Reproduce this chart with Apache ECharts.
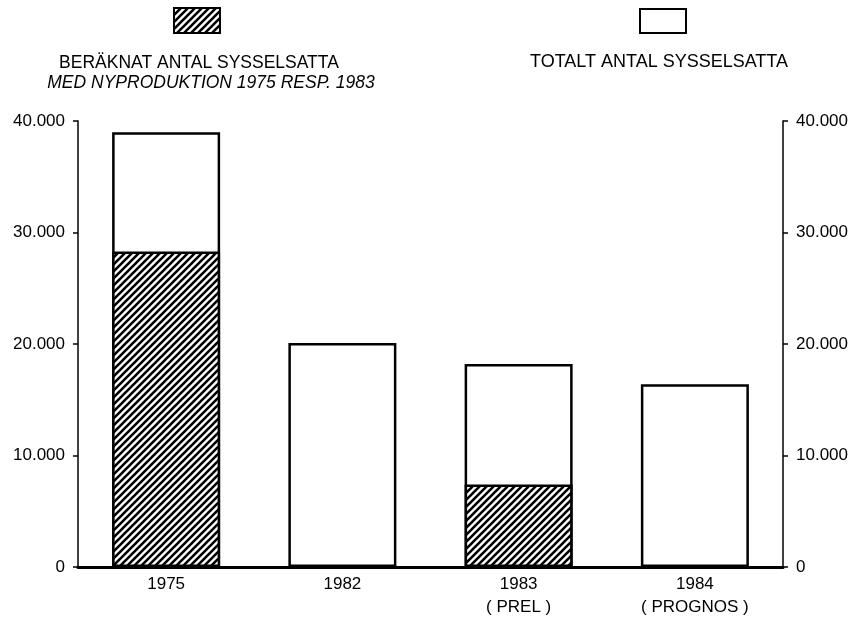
<!DOCTYPE html>
<html>
<head>
<meta charset="utf-8">
<script src="https://cdn.jsdelivr.net/npm/echarts@6/dist/echarts.min.js"></script>
<style>
  html, body { margin: 0; padding: 0; background: #fff; }
  #chart { width: 861px; height: 620px; }
</style>
</head>
<body>
<div id="chart"></div>
<script>
// data
const years = ['1975', '1982', '1983\n( PREL )', '1984\n( PROGNOS )'];
const totalEmployed = [39000, 20100, 18200, 16400];
const newProduction = [28300, 0, 7400, 0];
const tickLabels = ['0', '10.000', '20.000', '30.000', '40.000'];

const FONT = '"Liberation Sans", Arial, sans-serif';

// diagonal hatch pattern
function hatch() {
  const c = document.createElement('canvas');
  c.width = 7; c.height = 7;
  const g = c.getContext('2d');
  g.fillStyle = '#fff';
  g.fillRect(0, 0, 7, 7);
  g.strokeStyle = '#000';
  g.lineWidth = 2.6;
  g.beginPath();
  for (let k = -7; k <= 14; k += 7) {
    g.moveTo(k - 1, 8);
    g.lineTo(k + 8, -1);
  }
  g.stroke();
  return c;
}
const hatchFill = { image: hatch(), repeat: 'repeat' };

const chart = echarts.init(document.getElementById('chart'));

const yAxisBase = {
  type: 'value',
  min: 0,
  max: 40000,
  interval: 10000,
  axisLine: { show: true, lineStyle: { color: '#000', width: 1.5 } },
  axisTick: { show: true, length: 5, lineStyle: { color: '#000', width: 1.5 } },
  splitLine: { show: false },
  axisLabel: {
    color: '#000',
    fontFamily: FONT,
    fontSize: 17,
    margin: 13,
    formatter: (v) => tickLabels[Math.round(v / 10000)]
  }
};

chart.setOption({
  backgroundColor: '#fff',
  animation: false,
  grid: { left: 78, right: 78, top: 121, bottom: 53 },
  xAxis: {
    type: 'category',
    data: years,
    axisLine: { show: true, lineStyle: { color: '#000', width: 3 } },
    axisTick: { show: false },
    axisLabel: {
      color: '#000',
      fontFamily: FONT,
      fontSize: 17,
      lineHeight: 23,
      margin: 6
    }
  },
  yAxis: [
    Object.assign({}, yAxisBase, { position: 'left' }),
    Object.assign({}, yAxisBase, { position: 'right' })
  ],
  series: [
    {
      name: 'TOTALT ANTAL SYSSELSATTA',
      type: 'bar',
      data: totalEmployed,
      barWidth: 108,
      barGap: '-100%',
      itemStyle: { color: '#fff', borderColor: '#000', borderWidth: 2.5 }
    },
    {
      name: 'BERÄKNAT ANTAL SYSSELSATTA',
      type: 'bar',
      data: newProduction,
      barWidth: 108,
      barGap: '-100%',
      itemStyle: { color: hatchFill, borderColor: '#000', borderWidth: 2.5 }
    }
  ],
  graphic: [
    {
      type: 'rect',
      shape: { x: 174, y: 8, width: 46, height: 25 },
      style: { fill: hatchFill, stroke: '#000', lineWidth: 2 }
    },
    {
      type: 'rect',
      shape: { x: 640, y: 9, width: 46, height: 24 },
      style: { fill: '#fff', stroke: '#000', lineWidth: 2 }
    },
    {
      type: 'text',
      x: 199, y: 63,
      style: {
        text: 'BERÄKNAT ANTAL SYSSELSATTA',
        font: '17.5px ' + FONT,
        fill: '#000',
        align: 'center',
        verticalAlign: 'middle'
      }
    },
    {
      type: 'text',
      x: 211, y: 83,
      style: {
        text: 'MED NYPRODUKTION 1975 RESP. 1983',
        font: 'italic 17.5px ' + FONT,
        fill: '#000',
        align: 'center',
        verticalAlign: 'middle'
      }
    },
    {
      type: 'text',
      x: 659, y: 62,
      style: {
        text: 'TOTALT ANTAL SYSSELSATTA',
        font: '18px ' + FONT,
        fill: '#000',
        align: 'center',
        verticalAlign: 'middle'
      }
    }
  ]
});
</script>
</body>
</html>
